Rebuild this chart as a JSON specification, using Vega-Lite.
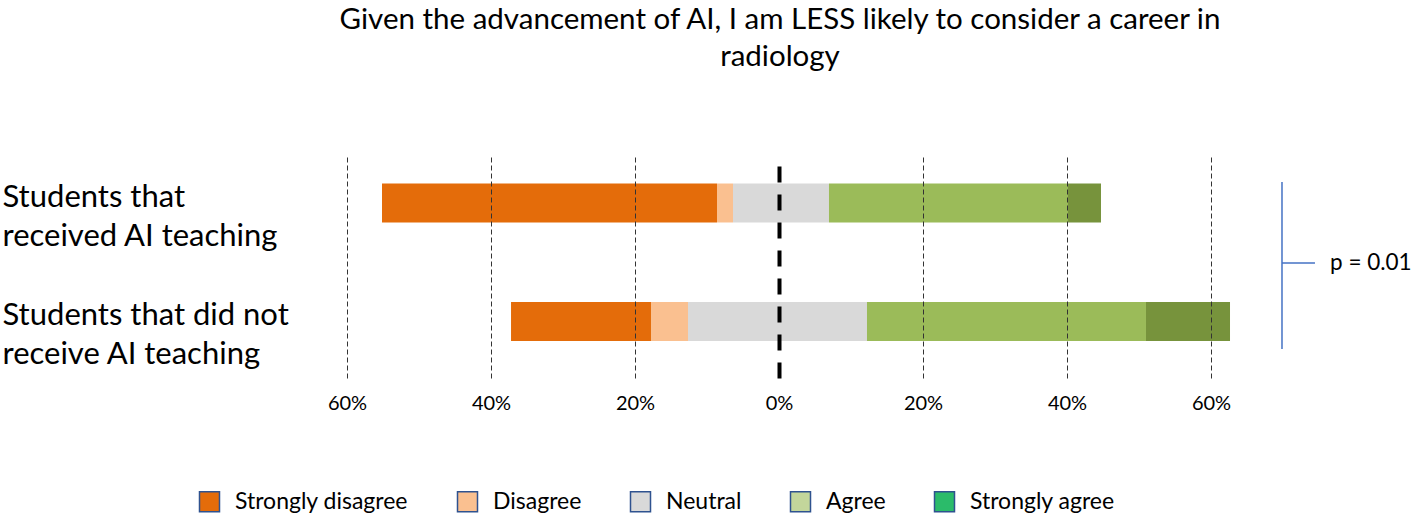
{
  "$schema": "https://vega.github.io/schema/vega-lite/v6.json",
  "width": 1118,
  "height": 223,
  "autosize": {"type": "none"},
  "padding": {"left": 300, "top": 155, "right": 0, "bottom": 138},
  "background": "white",
  "config": {"view": {"stroke": null}, "font": "Lato"},
  "title": {
    "text": ["Given the advancement of AI, I am LESS likely to consider a career in", "radiology"],
    "font": "Lato",
    "fontSize": 29.5,
    "fontWeight": "normal",
    "lineHeight": 37,
    "color": "black",
    "anchor": "middle",
    "frame": "group",
    "dx": -79,
    "offset": 83
  },
  "resolve": {"scale": {"y": "independent"}},
  "layer": [
    {
      "data": {
        "values": [
          {"group": "Students that|received  AI teaching", "response": "Strongly disagree", "pct": 46.5, "start": -55.14, "end": -8.61},
          {"group": "Students that|received  AI teaching", "response": "Disagree", "pct": 2.2, "start": -8.61, "end": -6.39},
          {"group": "Students that|received  AI teaching", "response": "Neutral", "pct": 13.3, "start": -6.39, "end": 6.94},
          {"group": "Students that|received  AI teaching", "response": "Agree", "pct": 33.2, "start": 6.94, "end": 40.14},
          {"group": "Students that|received  AI teaching", "response": "Strongly agree", "pct": 4.6, "start": 40.14, "end": 44.72},
          {"group": "Students that did not|receive AI teaching", "response": "Strongly disagree", "pct": 19.4, "start": -37.22, "end": -17.78},
          {"group": "Students that did not|receive AI teaching", "response": "Disagree", "pct": 5.1, "start": -17.78, "end": -12.64},
          {"group": "Students that did not|receive AI teaching", "response": "Neutral", "pct": 24.9, "start": -12.64, "end": 12.22},
          {"group": "Students that did not|receive AI teaching", "response": "Agree", "pct": 38.8, "start": 12.22, "end": 50.97},
          {"group": "Students that did not|receive AI teaching", "response": "Strongly agree", "pct": 11.7, "start": 50.97, "end": 62.64}
        ]
      },
      "resolve": {"scale": {"color": "independent"}, "legend": {"color": "independent"}},
      "layer": [
        {
          "mark": {"type": "bar"},
          "encoding": {
            "y": {
              "field": "group",
              "type": "nominal",
              "sort": null,
              "scale": {"paddingInner": 0.671, "paddingOuter": 0.2765, "align": 0.435},
              "axis": {
                "title": null,
                "domain": false,
                "ticks": false,
                "tickSize": 0,
                "grid": false,
                "labelExpr": "split(datum.label, '|')",
                "labelAlign": "left",
                "labelBaseline": "middle",
                "labelPadding": 298,
                "labelFont": "Lato",
                "labelFontSize": 31,
                "labelLineHeight": 39,
                "labelLimit": 500,
                "labelOffset": -5,
                "labelColor": "black"
              }
            },
            "x": {
              "field": "start",
              "type": "quantitative",
              "scale": {"domain": [-66.53, 88.75], "nice": false, "zero": false},
              "axis": {
                "title": null,
                "values": [-60, -40, -20, 0, 20, 40, 60],
                "labelExpr": "abs(datum.value) + '%'",
                "domain": false,
                "ticks": false,
                "grid": true,
                "gridColor": {"condition": {"test": "datum.value === 0", "value": "#000000"}, "value": "#333333"},
                "gridDash": {"condition": {"test": "datum.value === 0", "value": [16, 12]}, "value": [5, 3]},
                "gridWidth": {"condition": {"test": "datum.value === 0", "value": 4}, "value": 1},
                "labelFont": "Lato",
                "labelFontSize": 20,
                "labelColor": "black",
                "labelPadding": 15,
                "zindex": 1
              }
            },
            "x2": {"field": "end"},
            "color": {
              "field": "response",
              "type": "nominal",
              "scale": {
                "domain": ["Strongly disagree", "Disagree", "Neutral", "Agree", "Strongly agree"],
                "range": ["#E46C0A", "#FAC090", "#D9D9D9", "#9BBB59", "#77933C"]
              },
              "legend": null
            }
          }
        },
        {
          "mark": {"type": "bar", "opacity": 0},
          "encoding": {
            "y": {"field": "group", "type": "nominal", "sort": null},
            "x": {"field": "start", "type": "quantitative"},
            "x2": {"field": "end"},
            "color": {
              "field": "response",
              "type": "nominal",
              "scale": {
                "domain": ["Strongly disagree", "Disagree", "Neutral", "Agree", "Strongly agree"],
                "range": ["#E46C0A", "#FAC090", "#D9D9D9", "#C3D69B", "#2BBB6A"]
              },
              "legend": {
                "title": null,
                "orient": "none",
                "legendX": -102,
                "legendY": 335,
                "direction": "horizontal",
                "padding": 0,
                "symbolType": "square",
                "symbolSize": 400,
                "symbolStrokeColor": "#2F528F",
                "symbolStrokeWidth": 1.5,
                "symbolOpacity": 1,
                "labelFont": "Lato",
                "labelFontSize": 23,
                "labelColor": "black",
                "labelOffset": 14,
                "columnPadding": 45,
                "labelLimit": 300
              }
            }
          }
        }
      ]
    },
    {
      "data": {
        "values": [
          {"x": 69.86, "x2": 69.86, "y": -0.177, "y2": 1.232},
          {"x": 69.86, "x2": 74.44, "y": 0.506, "y2": 0.506}
        ]
      },
      "mark": {"type": "rule", "color": "#4472C4", "strokeWidth": 1.5},
      "encoding": {
        "x": {"field": "x", "type": "quantitative"},
        "x2": {"field": "x2"},
        "y": {"field": "y", "type": "quantitative", "scale": {"domain": [-0.405, 1.477], "reverse": true, "nice": false, "zero": false}, "axis": null},
        "y2": {"field": "y2"}
      }
    },
    {
      "data": {"values": [{"x": 76.53, "y": 0.506, "label": "p = 0.01"}]},
      "mark": {"type": "text", "align": "left", "baseline": "middle", "font": "Lato", "fontSize": 22.5, "color": "black"},
      "encoding": {
        "x": {"field": "x", "type": "quantitative"},
        "y": {"field": "y", "type": "quantitative", "scale": {"domain": [-0.405, 1.477], "reverse": true, "nice": false, "zero": false}, "axis": null},
        "text": {"field": "label"}
      }
    }
  ]
}
